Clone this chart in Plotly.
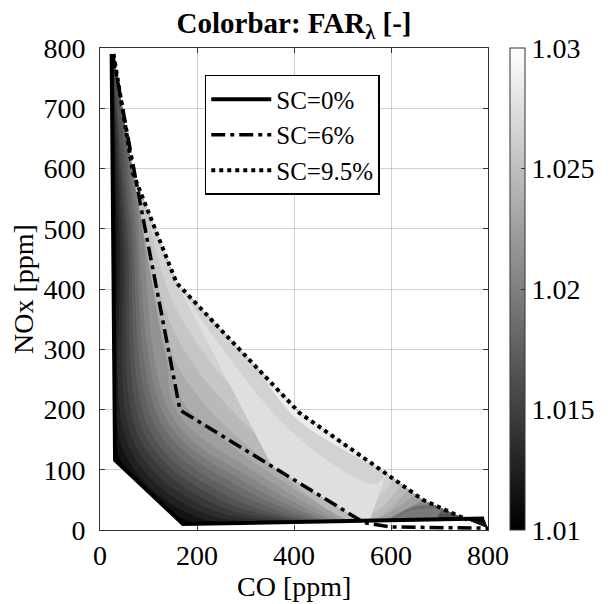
import plotly.graph_objects as go

# ---------------- data ----------------
op_point = [1, 2, 3, 4, 5, 6, 7]          # operating points along each SC curve
sc_levels = [0, 6, 9.5]                    # steam content [%]
sc_names = ["SC=0%", "SC=6%", "SC=9.5%"]

co_sc0 = [24, 27, 31, 171, 360, 600, 792]
nox_sc0 = [790, 450, 116, 10, 13, 16, 19]
co_sc6 = [26, 82, 165, 355, 545, 600, 800]
nox_sc6 = [790, 546, 199, 106, 12, 5, 3]
co_sc95 = [28, 68, 158, 412, 575, 666, 757]
nox_sc95 = [790, 592, 410, 194, 102, 50, 17]

far_sc0 = [1.012, 1.0103, 1.0102, 1.0102, 1.0103, 1.0104, 1.0108]
far_sc6 = [1.016, 1.0212, 1.0225, 1.024, 1.0245, 1.014, 1.012]
far_sc95 = [1.019, 1.0255, 1.027, 1.0285, 1.028, 1.022, 1.015]

x_ticks = [0, 200, 400, 600, 800]
y_ticks = [0, 100, 200, 300, 400, 500, 600, 700, 800]
cb_ticks = [1.01, 1.015, 1.02, 1.025, 1.03]
cb_ticktext = ["1.01", "1.015", "1.02", "1.025", "1.03"]

FONT = "Liberation Serif"
FS = 28
gray = [[0, "black"], [1, "white"]]

fig = go.Figure()

hidden_axis = dict(showgrid=False, showline=False, showticklabels="none",
                   startline=False, endline=False, minorgridcount=0,
                   smoothing=0, gridcolor="rgba(0,0,0,0)", linecolor="rgba(0,0,0,0)")

fig.add_trace(go.Carpet(
    a=op_point, b=sc_levels,
    x=[co_sc0, co_sc6, co_sc95],
    y=[nox_sc0, nox_sc6, nox_sc95],
    aaxis=hidden_axis, baxis=hidden_axis,
    carpet="c1",
))

fig.add_trace(go.Contourcarpet(
    a=op_point, b=sc_levels,
    z=[far_sc0, far_sc6, far_sc95],
    carpet="c1",
    colorscale=gray, zmin=1.01, zmax=1.03,
    autocontour=False,
    contours=dict(start=1.01, end=1.03, size=0.001, coloring="fill", showlines=False),
    line=dict(width=0),
    showscale=False,
))

# continuous colorbar
fig.add_trace(go.Scatter(
    x=[None], y=[None], mode="markers", showlegend=False, hoverinfo="skip",
    marker=dict(color=[1.02], colorscale=gray, cmin=1.01, cmax=1.03, showscale=True,
                colorbar=dict(x=1.057, xanchor="left", y=0.5, yanchor="middle",
                              len=1, lenmode="fraction", ypad=0, xpad=0, thickness=15,
                              outlinewidth=1, outlinecolor="#333",
                              ticks="inside", ticklen=4, tickcolor="#333",
                              tickvals=cb_ticks, ticktext=cb_ticktext,
                              tickfont=dict(family=FONT, size=FS, color="black"))),
))

line_styles = [dict(color="black", width=4, dash="solid"),
               dict(color="black", width=3.5, dash="14px,5px,4px,5px"),
               dict(color="black", width=4, dash="4px,4px")]
curves = [(co_sc0, nox_sc0), (co_sc6, nox_sc6), (co_sc95, nox_sc95)]
for name, (xs, ys), ls in zip(sc_names, curves, line_styles):
    fig.add_trace(go.Scatter(x=xs, y=ys, mode="lines", name=name, line=ls))

axis_common = dict(showline=True, linecolor="#333", linewidth=1, mirror="ticks",
                   ticks="inside", ticklen=5, tickcolor="#333",
                   showgrid=True, gridcolor="rgba(170,170,170,0.55)", gridwidth=1,
                   zeroline=False, layer="above traces",
                   tickfont=dict(family=FONT, size=FS, color="black"))

# page body adds an 8px offset; the figure is sized/margined to compensate
fig.update_layout(
    width=603, height=596,
    margin=dict(l=92, r=123, t=40, b=74, autoexpand=False),
    paper_bgcolor="white", plot_bgcolor="white",
    font=dict(family=FONT, color="black"),
    title=dict(text="<b>Colorbar: FAR<sub>λ</sub> [-]</b>", x=0.5, xref="paper",
               xanchor="center", y=0.975, yanchor="middle",
               font=dict(family=FONT, size=29, color="black")),
    xaxis=dict(range=[0, 800], tickvals=x_ticks, ticklabelstandoff=0, **axis_common),
    yaxis=dict(range=[0, 800], tickvals=y_ticks, ticklabelstandoff=8,
               title=dict(text="NOx [ppm]", font=dict(family=FONT, size=FS), standoff=4),
               **axis_common),
    legend=dict(x=0.27, y=0.944, xanchor="left", yanchor="top",
                bgcolor="white", bordercolor="black", borderwidth=1.5,
                itemwidth=60,
                font=dict(family=FONT, size=25, color="black")),
    annotations=[dict(text="CO [ppm]", xref="paper", yref="paper", x=0.5, y=-0.118,
                      xanchor="center", yanchor="middle", showarrow=False,
                      font=dict(family=FONT, size=FS, color="black"))],
)

fig.write_html("out.html")
